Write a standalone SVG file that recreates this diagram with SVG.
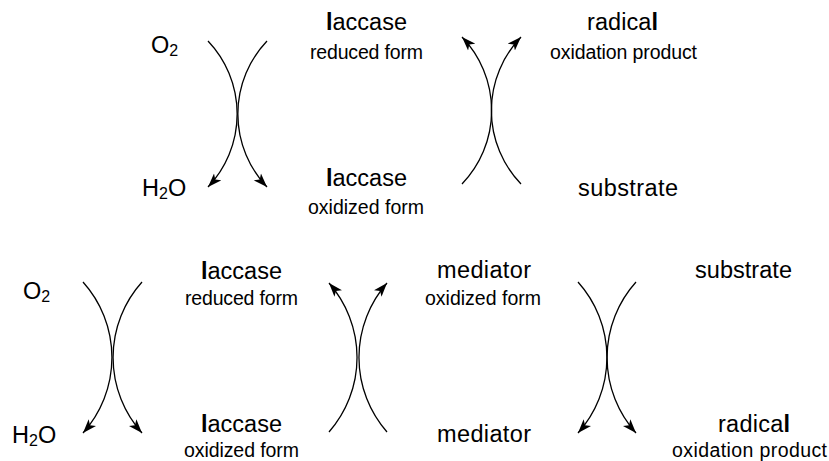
<svg xmlns="http://www.w3.org/2000/svg" width="829" height="461" viewBox="0 0 829 461">
<style>
text{font-family:"Liberation Sans",Arial,sans-serif;fill:#000}
.big{font-size:23.5px}
.small{font-size:19.5px}
.sub{font-size:16px}
.b{font-weight:bold}
.arc{fill:none;stroke:#000;stroke-width:1.3;marker-end:url(#ah)}
</style>
<defs>
<marker id="ah" markerUnits="userSpaceOnUse" markerWidth="15" markerHeight="11" refX="14" refY="5.5" orient="auto" viewBox="0 0 15 11">
<path d="M0,0.5 L14,5.5 L0,10.5 L3.5,5.5 Z" fill="#000"/>
</marker>
</defs>
<g id="connectors">
<path class="arc" d="M208,41 A106,106 0 0 1 208,187"/>
<path class="arc" d="M267,41 A106,106 0 0 0 267,187"/>
<path class="arc" d="M462,184 A106,106 0 0 0 462,37"/>
<path class="arc" d="M521,184 A106,106 0 0 1 521,37"/>
<path class="arc" d="M83,282 A113,113 0 0 1 83,433"/>
<path class="arc" d="M142,282 A113,113 0 0 0 142,433"/>
<path class="arc" d="M329,432 A113,113 0 0 0 329,283"/>
<path class="arc" d="M387,432 A113,113 0 0 1 387,283"/>
<path class="arc" d="M578,282 A113,113 0 0 1 578,433"/>
<path class="arc" d="M636,282 A113,113 0 0 0 636,433"/>
</g>
<g id="o2-top"><text class="big" x="151" y="53">O<tspan class="sub" dy="3">2</tspan></text></g>
<g id="h2o-top"><text class="big" x="142" y="196">H<tspan class="sub" dy="3">2</tspan><tspan dy="-3">O</tspan></text></g>
<g id="laccase-reduced-top"><text class="big" x="326" y="30" textLength="81"><tspan class="b">l</tspan>accase</text><text class="small" x="310" y="59" textLength="113">reduced form</text></g>
<g id="laccase-oxidized-top"><text class="big" x="326" y="186" textLength="81"><tspan class="b">l</tspan>accase</text><text class="small" x="308" y="214" textLength="116">oxidized form</text></g>
<g id="radical-top"><text class="big" x="587" y="30" textLength="71">radica<tspan class="b">l</tspan></text><text class="small" x="550" y="59" textLength="147">oxidation product</text></g>
<g id="substrate-top"><text class="big" x="578" y="196" textLength="100">substrate</text></g>
<g id="o2-bottom"><text class="big" x="23" y="299">O<tspan class="sub" dy="3">2</tspan></text></g>
<g id="h2o-bottom"><text class="big" x="12" y="443">H<tspan class="sub" dy="3">2</tspan><tspan dy="-3">O</tspan></text></g>
<g id="laccase-reduced-bottom"><text class="big" x="201" y="279" textLength="81"><tspan class="b">l</tspan>accase</text><text class="small" x="185" y="305" textLength="113">reduced form</text></g>
<g id="laccase-oxidized-bottom"><text class="big" x="201" y="432" textLength="81"><tspan class="b">l</tspan>accase</text><text class="small" x="184" y="457" textLength="115">oxidized form</text></g>
<g id="mediator-oxidized"><text class="big" x="437" y="278" textLength="94">mediator</text><text class="small" x="425" y="305" textLength="116">oxidized form</text></g>
<g id="mediator"><text class="big" x="437" y="442" textLength="94">mediator</text></g>
<g id="substrate-bottom"><text class="big" x="695" y="278" textLength="97">substrate</text></g>
<g id="radical-bottom"><text class="big" x="718" y="432" textLength="72">radica<tspan class="b">l</tspan></text><text class="small" x="672" y="457" textLength="155">oxidation product</text></g>
</svg>
